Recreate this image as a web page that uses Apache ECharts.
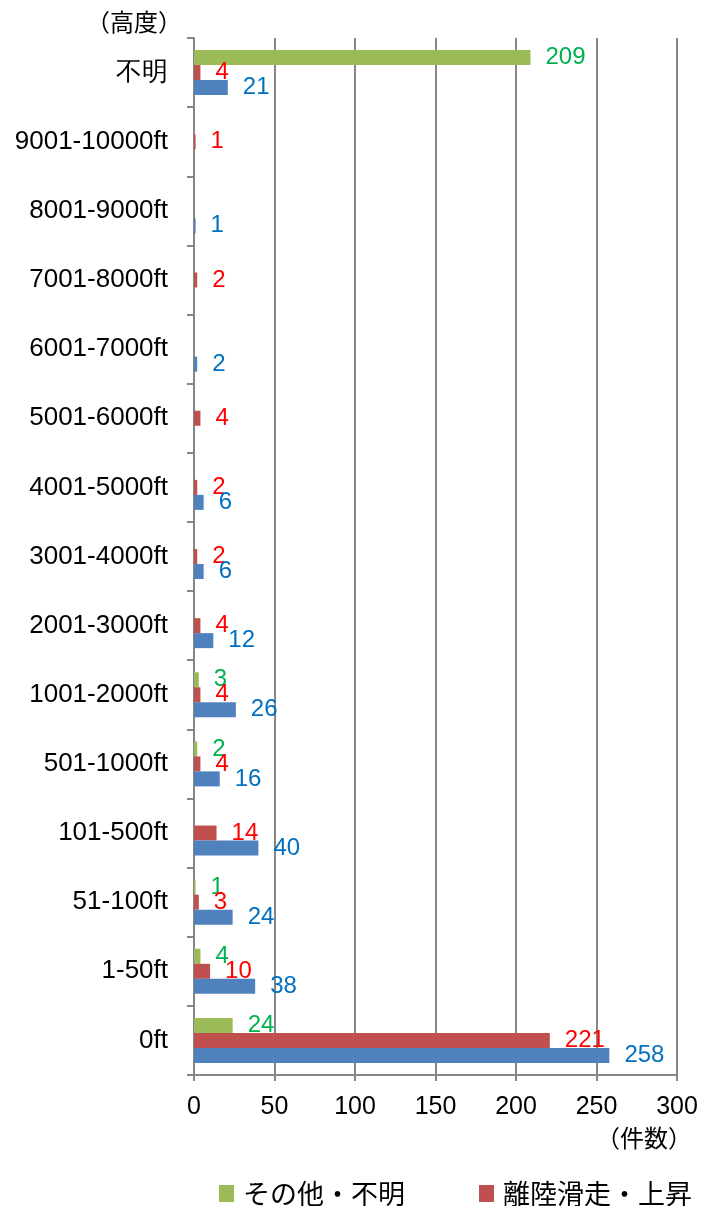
<!DOCTYPE html>
<html>
<head>
<meta charset="utf-8">
<script src="https://cdn.jsdelivr.net/npm/echarts@6/dist/echarts.min.js"></script>
<style>
html,body{margin:0;padding:0;background:#fff;}
#chart{width:702px;height:1206px;}
</style>
</head>
<body>
<div id="chart"></div>
<script>
var categories = ['0ft','1-50ft','51-100ft','101-500ft','501-1000ft','1001-2000ft','2001-3000ft',
    '3001-4000ft','4001-5000ft','5001-6000ft','6001-7000ft','7001-8000ft','8001-9000ft','9001-10000ft','不明'];
var blueName = '進入・着陸';
var redName = '離陸滑走・上昇';
var greenName = 'その他・不明';
var blueValues = [258, 38, 24, 40, 16, 26, 12, 6, 6, null, 2, null, 1, null, 21];
var redValues = [221, 10, 3, 14, 4, 4, 4, 2, 2, 4, null, 2, null, 1, 4];
var greenValues = [24, 4, 1, null, 2, 3, null, null, null, null, null, null, null, null, 209];
var xTicks = [0, 50, 100, 150, 200, 250, 300];

var latin = '"Liberation Sans", Arial, sans-serif';
var cjk = '"Noto Sans CJK JP", sans-serif';

var initChart = function () {
    var chart = echarts.init(document.getElementById('chart'));
    var mkLabel = function (color) {
        return {
            show: true,
            position: 'right',
            distance: 15,
            color: color,
            fontSize: 24,
            fontFamily: latin
        };
    };
    var option = {
        animation: false,
        grid: { left: 194, right: 25, top: 38, bottom: 131 },
        legend: {
            data: [greenName, redName, blueName],
            left: 214,
            top: 1175,
            width: 1200,
            itemGap: 74,
            itemWidth: 15,
            itemHeight: 17,
            icon: 'rect',
            textStyle: { fontSize: 27, fontFamily: cjk, color: '#000', padding: [0, 0, 0, 4] }
        },
        xAxis: {
            type: 'value',
            min: xTicks[0],
            max: xTicks[xTicks.length - 1],
            interval: 50,
            axisLine: { show: true, lineStyle: { color: '#868686', width: 2 } },
            axisTick: { show: true, length: 6, lineStyle: { color: '#868686', width: 2 } },
            axisLabel: { margin: 20, fontSize: 25, color: '#000', fontFamily: latin },
            splitLine: { show: true, lineStyle: { color: '#868686', width: 2 } }
        },
        yAxis: {
            type: 'category',
            data: categories,
            name: '（高度）',
            nameLocation: 'end',
            nameGap: 4,
            nameTextStyle: { fontSize: 24, fontFamily: cjk, color: '#000', align: 'right', verticalAlign: 'bottom', padding: [0, 12, 0, 0] },
            axisLine: { show: true, lineStyle: { color: '#868686', width: 2 } },
            axisTick: { show: true, length: 7, lineStyle: { color: '#868686', width: 2 } },
            axisLabel: { margin: 26, fontSize: 26, color: '#000', fontFamily: latin },
            splitLine: { show: false }
        },
        graphic: [{
            type: 'text',
            left: 596,
            top: 1126,
            style: { text: '（件数）', fontSize: 24, fontFamily: cjk, fill: '#000' }
        }],
        series: [
            {
                name: greenName, type: 'bar', data: greenValues,
                barWidth: 15, barGap: '0%',
                itemStyle: { color: '#9BBB59' },
                label: mkLabel('#00B050')
            },
            {
                name: redName, type: 'bar', data: redValues,
                barWidth: 15, barGap: '0%',
                itemStyle: { color: '#C0504D' },
                label: mkLabel('#FF0000')
            },
            {
                name: blueName, type: 'bar', data: blueValues,
                barWidth: 15, barGap: '0%',
                itemStyle: { color: '#4F81BD' },
                label: mkLabel('#0070C0')
            }
        ]
    };
    chart.setOption(option);
};

initChart();
</script>
</body>
</html>
